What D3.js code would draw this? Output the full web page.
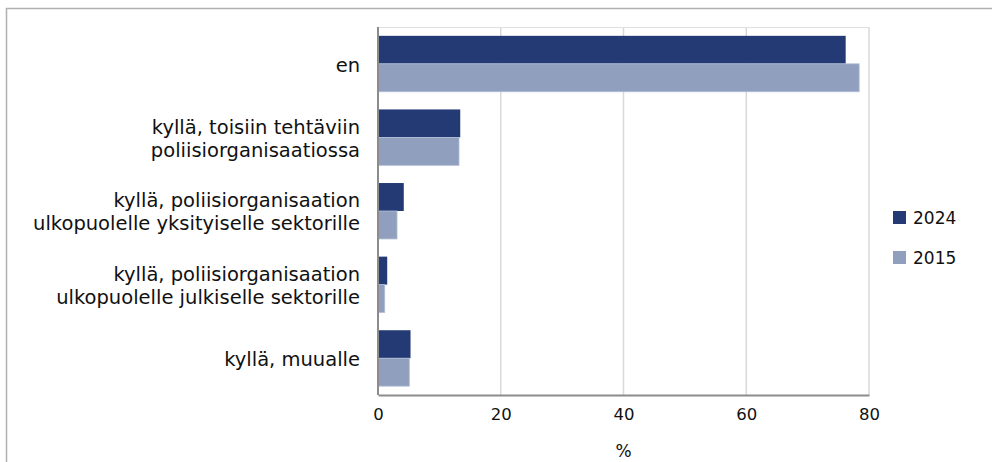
<!DOCTYPE html>
<html>
<head>
<meta charset="utf-8">
<script src="https://cdn.jsdelivr.net/npm/d3@7"></script>
<style>
  body { margin: 0; background: #fff; }
  svg text { font-family: "DejaVu Sans", "Noto Sans", sans-serif; fill: #111; }
</style>
</head>
<body>
<script>
// categories (each label split into lines)
var categories = [
  ["en"],
  ["kyllä, toisiin tehtäviin", "poliisiorganisaatiossa"],
  ["kyllä, poliisiorganisaation", "ulkopuolelle yksityiselle sektorille"],
  ["kyllä, poliisiorganisaation", "ulkopuolelle julkiselle sektorille"],
  ["kyllä, muualle"]
];
var seriesNames = ["2024", "2015"];
var values2024 = [76.2, 13.4, 4.2, 1.5, 5.3];
var values2015 = [78.4, 13.2, 3.1, 1.1, 5.1];
var xTicks = [0, 20, 40, 60, 80];
var axisTitle = "%";

var colors = {"2024": "#233a75", "2015": "#8f9fbd"};

var width = 992, height = 462;
var margin = {top: 27, left: 378, right: 123, bottom: 67};
var plotW = width - margin.left - margin.right,
    plotH = height - margin.top - margin.bottom;

var svg = d3.select("body").append("svg")
    .attr("width", width)
    .attr("height", height);

// outer frame
svg.append("rect")
   .attr("x", 6.5).attr("y", 8.5)
   .attr("width", width + 10).attr("height", height + 10)
   .attr("fill", "none")
   .attr("stroke", "#b0b0b0")
   .attr("stroke-width", 1.5);

var g = svg.append("g")
    .attr("transform", "translate(" + margin.left + "," + margin.top + ")");

var x = d3.scaleLinear().domain([0, 80]).range([0, plotW]);
var y = d3.scaleBand()
    .domain(d3.range(categories.length))
    .range([0, plotH])
    .paddingInner(0.24)
    .paddingOuter(0.12);
var ySub = d3.scaleBand().domain(seriesNames).range([0, y.bandwidth()]);

// gridlines
g.selectAll(".grid")
  .data(xTicks.slice(1))
  .enter().append("line")
  .attr("class", "grid")
  .attr("x1", function(d) { return x(d); })
  .attr("x2", function(d) { return x(d); })
  .attr("y1", 0).attr("y2", plotH)
  .attr("stroke", "#d9d9d9")
  .attr("stroke-width", 1.5);

// top border of plot
g.append("line")
  .attr("x1", 0).attr("x2", plotW)
  .attr("y1", 0.5).attr("y2", 0.5)
  .attr("stroke", "#e0e0e0");

// bars
var rows = categories.map(function(c, i) {
  return {i: i, vals: [{s: "2024", v: values2024[i]}, {s: "2015", v: values2015[i]}]};
});

var groups = g.selectAll(".cat")
  .data(rows)
  .enter().append("g")
  .attr("class", "cat")
  .attr("transform", function(d) { return "translate(0," + y(d.i) + ")"; });

groups.selectAll("rect")
  .data(function(d) { return d.vals; })
  .enter().append("rect")
  .attr("x", 0)
  .attr("y", function(d) { return ySub(d.s); })
  .attr("width", function(d) { return x(d.v); })
  .attr("height", ySub.bandwidth())
  .attr("fill", function(d) { return colors[d.s]; })
  .attr("stroke", function(d) { return d.s == "2015" ? "#b4c0d6" : "none"; })
  .attr("stroke-width", 0.8);

// category labels, 23px line height
var lineH = 23;
groups.append("text")
  .attr("text-anchor", "end")
  .style("font-size", "19.5px")
  .each(function(d) {
    var lines = categories[d.i];
    var t = d3.select(this);
    var y0 = y.bandwidth() / 2 + 1 - (lines.length - 1) * lineH / 2;
    lines.forEach(function(l, k) {
      t.append("tspan")
       .attr("x", -18)
       .attr("y", y0 + k * lineH)
       .attr("dy", "0.35em")
       .text(l);
    });
  });

// x axis
var xAxis = d3.axisBottom(x).tickValues(xTicks).tickSize(0).tickPadding(13);
var ax = g.append("g")
  .attr("transform", "translate(0," + plotH + ")")
  .call(xAxis);
ax.select(".domain").attr("stroke", "#8c8c8c").attr("stroke-width", 2);
ax.selectAll("text")
  .style("font-size", "16.5px")
  .style("font-family", "'DejaVu Sans', sans-serif")
  .attr("fill", "#111");

// y axis line
g.append("line")
  .attr("x1", 0).attr("x2", 0)
  .attr("y1", 0).attr("y2", plotH)
  .attr("stroke", "#8c8c8c")
  .attr("stroke-width", 2);

// axis title
g.append("text")
  .attr("x", plotW / 2)
  .attr("y", plotH + 62)
  .attr("text-anchor", "middle")
  .style("font-size", "17px")
  .text(axisTitle);

// legend
var legend = svg.selectAll(".legend")
  .data(seriesNames)
  .enter().append("g")
  .attr("class", "legend")
  .attr("transform", function(d, i) { return "translate(893," + (211 + i * 40) + ")"; });

legend.append("rect")
  .attr("width", 13).attr("height", 13)
  .attr("fill", function(d) { return colors[d]; });

legend.append("text")
  .attr("x", 20)
  .attr("y", 7)
  .attr("dy", "0.35em")
  .style("font-size", "17px")
  .text(function(d) { return d; });
</script>
</body>
</html>
